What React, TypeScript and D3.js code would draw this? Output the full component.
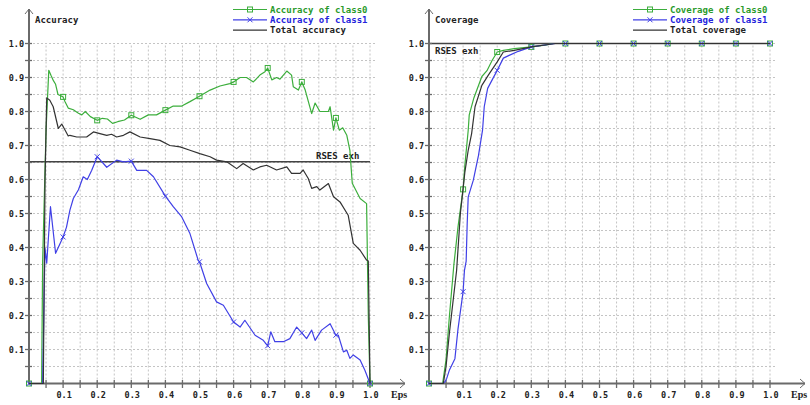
import React from "react";
import * as d3 from "d3";

type Pt = [number, number];

// Accuracy panel series: [eps, value]
const ACC_CLASS0: Pt[] = [
  [0, 0], [0.037, 0], [0.04, 0.36], [0.05, 0.745], [0.058, 0.921], [0.065, 0.905], [0.072, 0.89],
  [0.078, 0.88], [0.085, 0.85], [0.1, 0.843], [0.105, 0.83], [0.115, 0.81], [0.13, 0.805],
  [0.145, 0.795], [0.155, 0.79], [0.165, 0.8], [0.18, 0.785], [0.2, 0.774], [0.215, 0.78],
  [0.23, 0.778], [0.245, 0.765], [0.26, 0.77], [0.28, 0.775], [0.3, 0.789], [0.326, 0.777],
  [0.35, 0.79], [0.374, 0.79], [0.4, 0.804], [0.423, 0.816], [0.448, 0.816], [0.472, 0.829],
  [0.5, 0.845], [0.531, 0.863], [0.56, 0.875], [0.589, 0.882], [0.6, 0.887], [0.619, 0.9],
  [0.638, 0.9], [0.658, 0.887], [0.677, 0.907], [0.692, 0.917], [0.7, 0.928], [0.712, 0.893],
  [0.726, 0.9], [0.736, 0.895], [0.756, 0.919], [0.77, 0.907], [0.775, 0.873], [0.79, 0.863],
  [0.8, 0.887], [0.81, 0.863], [0.829, 0.794], [0.839, 0.825], [0.853, 0.8], [0.878, 0.8],
  [0.883, 0.814], [0.893, 0.745], [0.9, 0.781], [0.91, 0.745], [0.92, 0.752], [0.932, 0.73],
  [0.941, 0.686], [0.948, 0.589], [0.971, 0.544], [0.99, 0.529], [0.995, 0.2], [1.0, 0],
];

const ACC_CLASS1: Pt[] = [
  [0, 0], [0.04, 0], [0.045, 0.3], [0.047, 0.398], [0.052, 0.354], [0.063, 0.52], [0.078, 0.383],
  [0.1, 0.431], [0.11, 0.46], [0.12, 0.51], [0.13, 0.544], [0.145, 0.57], [0.159, 0.608],
  [0.171, 0.6], [0.184, 0.627], [0.2, 0.667], [0.228, 0.636], [0.257, 0.657], [0.277, 0.652],
  [0.3, 0.654], [0.316, 0.627], [0.345, 0.627], [0.365, 0.608], [0.4, 0.551], [0.423, 0.52],
  [0.448, 0.49], [0.472, 0.441], [0.496, 0.363], [0.5, 0.358], [0.521, 0.294], [0.55, 0.24],
  [0.57, 0.23], [0.6, 0.181], [0.619, 0.166], [0.633, 0.186], [0.663, 0.142], [0.687, 0.127],
  [0.7, 0.111], [0.709, 0.152], [0.721, 0.123], [0.746, 0.123], [0.765, 0.132], [0.785, 0.166],
  [0.8, 0.149], [0.814, 0.132], [0.829, 0.157], [0.839, 0.127], [0.858, 0.157], [0.883, 0.176],
  [0.9, 0.142], [0.907, 0.142], [0.922, 0.093], [0.932, 0.098], [0.941, 0.074], [0.951, 0.084],
  [0.971, 0.069], [0.985, 0.039], [1.0, 0],
];

const ACC_TOTAL: Pt[] = [
  [0, 0], [0.042, 0], [0.047, 0.6], [0.052, 0.84], [0.061, 0.833], [0.071, 0.814], [0.086, 0.75],
  [0.096, 0.763], [0.106, 0.745], [0.115, 0.728], [0.12, 0.73], [0.14, 0.725], [0.169, 0.725],
  [0.189, 0.74], [0.208, 0.735], [0.228, 0.73], [0.242, 0.733], [0.257, 0.725], [0.277, 0.73],
  [0.296, 0.74], [0.326, 0.725], [0.355, 0.72], [0.384, 0.715], [0.413, 0.7], [0.443, 0.696],
  [0.472, 0.686], [0.501, 0.676], [0.531, 0.667], [0.55, 0.657], [0.58, 0.652], [0.609, 0.632],
  [0.628, 0.647], [0.658, 0.628], [0.677, 0.637], [0.697, 0.642], [0.726, 0.628], [0.756, 0.637],
  [0.77, 0.618], [0.795, 0.618], [0.804, 0.628], [0.819, 0.603], [0.829, 0.574], [0.844, 0.579],
  [0.853, 0.569], [0.878, 0.588], [0.893, 0.549], [0.912, 0.534], [0.936, 0.495], [0.951, 0.412],
  [0.971, 0.392], [0.99, 0.363], [0.995, 0.36], [1.0, 0],
];

// Coverage panel series: [eps, value]
const COV_CLASS0: Pt[] = [
  [0, 0], [0.04, 0], [0.05, 0.07], [0.06, 0.2], [0.073, 0.35], [0.085, 0.46], [0.1, 0.571],
  [0.105, 0.64], [0.115, 0.745], [0.118, 0.79], [0.131, 0.838], [0.155, 0.903], [0.17, 0.92],
  [0.185, 0.95], [0.2, 0.975], [0.218, 0.98], [0.25, 0.985], [0.3, 0.99], [0.34, 0.995],
  [0.365, 1.0], [0.4, 1.0], [0.5, 1.0], [0.6, 1.0], [0.7, 1.0], [0.8, 1.0], [0.9, 1.0], [1.0, 1.0],
];

const COV_CLASS1: Pt[] = [
  [0, 0], [0.04, 0], [0.047, 0.005], [0.052, 0.015], [0.06, 0.04], [0.076, 0.073], [0.085, 0.16],
  [0.1, 0.27], [0.104, 0.333], [0.109, 0.36], [0.112, 0.47], [0.115, 0.549], [0.13, 0.598],
  [0.145, 0.67], [0.157, 0.745], [0.162, 0.814], [0.172, 0.868], [0.2, 0.921], [0.218, 0.957],
  [0.235, 0.965], [0.262, 0.977], [0.3, 0.99], [0.35, 0.997], [0.37, 1.0], [0.4, 1.0], [0.5, 1.0],
  [0.6, 1.0], [0.7, 1.0], [0.8, 1.0], [0.9, 1.0], [1.0, 1.0],
];

const COV_TOTAL: Pt[] = [
  [0, 0], [0.042, 0], [0.05, 0.05], [0.06, 0.15], [0.081, 0.333], [0.092, 0.5], [0.105, 0.62],
  [0.115, 0.686], [0.125, 0.735], [0.135, 0.814], [0.155, 0.877], [0.174, 0.907], [0.2, 0.946],
  [0.218, 0.975], [0.25, 0.98], [0.3, 0.99], [0.35, 0.997], [0.37, 1.0], [1.0, 1.0],
];

const RSES_ACCURACY = 0.652;
const RSES_COVERAGE = 1.0;

const X_TICK_LABELS = ["0.1", "0.2", "0.3", "0.4", "0.5", "0.6", "0.7", "0.8", "0.9", "1.0"];
const Y_TICK_LABELS = ["0.1", "0.2", "0.3", "0.4", "0.5", "0.6", "0.7", "0.8", "0.9", "1.0"];

const ACC_LEGEND = ["Accuracy of class0", "Accuracy of class1", "Total accuracy"];
const COV_LEGEND = ["Coverage of class0", "Coverage of class1", "Total coverage"];

const GREEN = "#3cae3c";
const GREEN_TEXT = "#2a9a2a";
const BLUE = "#4040e6";
const BLUE_TEXT = "#2424dc";
const DARK = "#333333";
const AXIS = "#6a6a6a";
const GRID = "#c4c4c4";
const FONT = "'DejaVu Sans Mono', monospace";

type Marker = "square" | "x" | null;

interface Series {
  data: Pt[];
  color: string;
  textColor: string;
  marker: Marker;
  label: string;
}

function MarkerGlyph({ kind, cx, cy, color }: { kind: Marker; cx: number; cy: number; color: string }) {
  if (kind === "square") {
    return <rect x={cx - 2.5} y={cy - 2.5} width={5} height={5} fill="none" stroke={color} strokeWidth={1} />;
  }
  if (kind === "x") {
    return (
      <path
        d={`M${cx - 2.5},${cy - 2.5}L${cx + 2.5},${cy + 2.5}M${cx - 2.5},${cy + 2.5}L${cx + 2.5},${cy - 2.5}`}
        stroke={color}
        strokeWidth={1}
      />
    );
  }
  return null;
}

function Panel({
  x0,
  title,
  series,
  rses,
  rsesLabel,
}: {
  x0: number;
  title: string;
  series: Series[];
  rses: number;
  rsesLabel: { x: number; dy: number };
}) {
  const x = d3.scaleLinear().domain([0, 1]).range([x0 + 29, x0 + 370]);
  const y = d3.scaleLinear().domain([0, 1]).range([383.5, 43.5]);
  const steps = d3.range(1, 21).map((i) => i * 0.05);
  const line = d3
    .line<Pt>()
    .x((d) => x(d[0]))
    .y((d) => y(d[1]));
  const axisX = x(0);
  const axisY = y(0);
  const isMarkerPoint = (e: number) => Math.abs(e * 10 - Math.round(e * 10)) < 1e-6;

  return (
    <g>
      {/* dotted grid */}
      {steps.map((s) => (
        <line
          key={`gh${s}`}
          x1={axisX}
          x2={x0 + 375}
          y1={y(s)}
          y2={y(s)}
          stroke={GRID}
          strokeWidth={1}
          strokeDasharray="2 2"
        />
      ))}
      {steps.map((s) => (
        <line
          key={`gv${s}`}
          x1={x(s)}
          x2={x(s)}
          y1={y(0)}
          y2={y(1)}
          stroke={GRID}
          strokeWidth={1}
          strokeDasharray="2 2"
        />
      ))}

      {/* reference level */}
      <line x1={axisX} x2={x(1)} y1={y(rses)} y2={y(rses)} stroke="#444" strokeWidth={1.5} />
      <text
        x={rsesLabel.x}
        y={y(rses) + rsesLabel.dy}
        fontFamily={FONT}
        fontSize={9}
        fontWeight="bold"
        fill="#222"
      >
        RSES exh
      </text>

      {/* axes */}
      <line x1={axisX} x2={axisX} y1={axisY + 1} y2={9} stroke={AXIS} strokeWidth={2} />
      <polyline points={`${axisX - 4},${14} ${axisX},${9} ${axisX + 4},${14}`} fill="none" stroke={AXIS} strokeWidth={1} />
      <line x1={axisX} x2={x0 + 405} y1={axisY} y2={axisY} stroke={AXIS} strokeWidth={2} />
      <polyline
        points={`${x0 + 400},${axisY - 4.5} ${x0 + 405},${axisY} ${x0 + 400},${axisY + 4.5}`}
        fill="none"
        stroke={AXIS}
        strokeWidth={1}
      />
      {steps.map((s) => (
        <line key={`ty${s}`} x1={axisX - 4} x2={axisX + 3} y1={y(s)} y2={y(s)} stroke={AXIS} strokeWidth={1.3} />
      ))}
      {steps.map((s) => (
        <line key={`tx${s}`} x1={x(s)} x2={x(s)} y1={axisY - 3.5} y2={axisY + 4.5} stroke={AXIS} strokeWidth={1.3} />
      ))}
      {Y_TICK_LABELS.map((t, i) => (
        <text
          key={`ly${t}`}
          x={axisX - 5}
          y={y((i + 1) / 10) + 3}
          textAnchor="end"
          fontFamily={FONT}
          fontSize={8.5}
          fontWeight="bold"
          fill="#222"
        >
          {t}
        </text>
      ))}
      {X_TICK_LABELS.map((t, i) => (
        <text
          key={`lx${t}`}
          x={x((i + 1) / 10) + 1}
          y={397.5}
          textAnchor="middle"
          fontFamily={FONT}
          fontSize={8.5}
          fontWeight="bold"
          fill="#222"
        >
          {t}
        </text>
      ))}
      <text x={x0 + 391} y={397.5} fontFamily="'Liberation Serif', serif" fontSize={10} fontWeight="bold" fill="#222">
        Eps
      </text>
      <text x={x0 + 35} y={22.5} fontFamily={FONT} fontSize={9} fontWeight="bold" fill="#222">
        {title}
      </text>

      {/* series */}
      {series.map((s, i) => (
        <g key={`s${i}`}>
          <path d={line(s.data) ?? ""} fill="none" stroke={s.color} strokeWidth={1.2} strokeLinejoin="round" />
          {s.data
            .filter((d) => isMarkerPoint(d[0]))
            .map((d) => (
              <MarkerGlyph key={`m${d[0]}`} kind={s.marker} cx={x(d[0])} cy={y(d[1])} color={s.color} />
            ))}
        </g>
      ))}

      {/* legend */}
      {series.map((s, i) => {
        const ly = 9.5 + i * 10.3;
        return (
          <g key={`lg${i}`}>
            <line x1={x0 + 233} x2={x0 + 267} y1={ly} y2={ly} stroke={s.color} strokeWidth={1.2} />
            <MarkerGlyph kind={s.marker} cx={x0 + 250} cy={ly} color={s.color} />
            <text x={x0 + 270} y={ly + 3} fontFamily={FONT} fontSize={9} fontWeight="bold" fill={s.textColor}>
              {s.label}
            </text>
          </g>
        );
      })}
    </g>
  );
}

export default function App() {
  const accSeries: Series[] = [
    { data: ACC_CLASS0, color: GREEN, textColor: GREEN_TEXT, marker: "square", label: ACC_LEGEND[0] },
    { data: ACC_CLASS1, color: BLUE, textColor: BLUE_TEXT, marker: "x", label: ACC_LEGEND[1] },
    { data: ACC_TOTAL, color: DARK, textColor: "#222", marker: null, label: ACC_LEGEND[2] },
  ];
  const covSeries: Series[] = [
    { data: COV_CLASS0, color: GREEN, textColor: GREEN_TEXT, marker: "square", label: COV_LEGEND[0] },
    { data: COV_CLASS1, color: BLUE, textColor: BLUE_TEXT, marker: "x", label: COV_LEGEND[1] },
    { data: COV_TOTAL, color: DARK, textColor: "#222", marker: null, label: COV_LEGEND[2] },
  ];
  return (
    <div style={{ position: "fixed", left: 0, top: 0, width: 810, height: 405, background: "#fff" }}>
      <svg width={810} height={405} style={{ display: "block" }}>
        <rect width={810} height={405} fill="#fff" />
        <Panel x0={0} title="Accuracy" series={accSeries} rses={RSES_ACCURACY} rsesLabel={{ x: 316, dy: -3 }} />
        <Panel x0={400} title="Coverage" series={covSeries} rses={RSES_COVERAGE} rsesLabel={{ x: 435, dy: 10 }} />
      </svg>
    </div>
  );
}
